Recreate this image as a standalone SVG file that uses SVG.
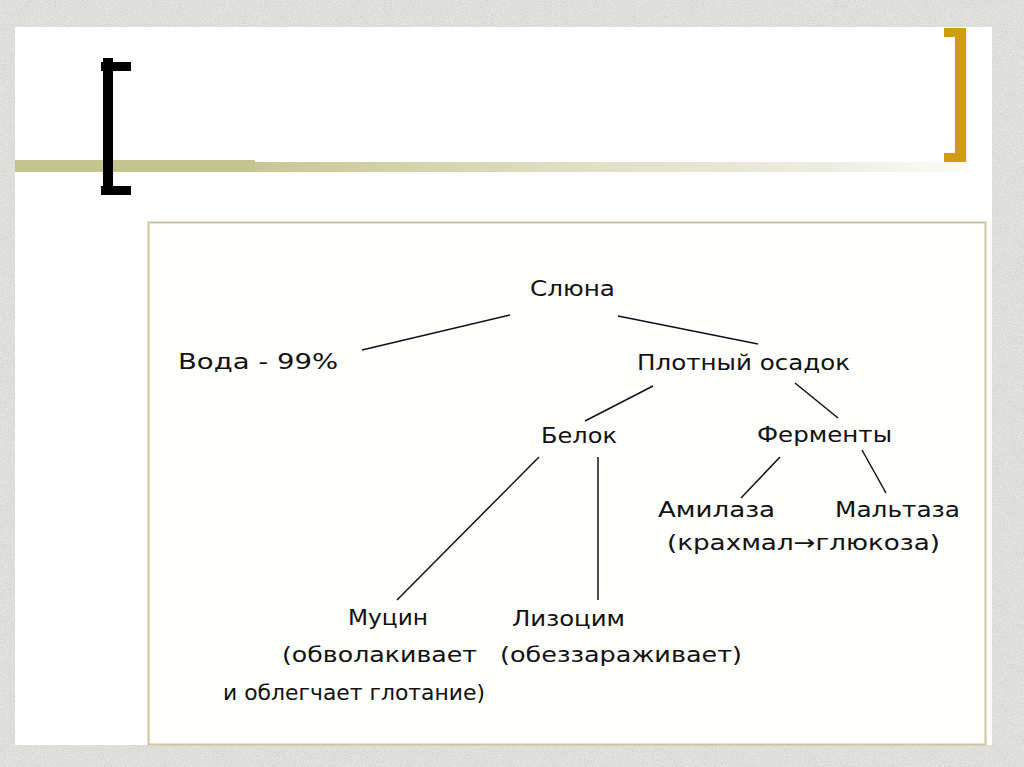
<svg xmlns="http://www.w3.org/2000/svg" width="1024" height="767" viewBox="0 0 1024 767">
<defs>
<filter id="tex" x="0" y="0" width="100%" height="100%">
<feTurbulence type="fractalNoise" baseFrequency="0.9" numOctaves="2" seed="3" result="n"/>
<feColorMatrix type="matrix" values="0 0 0 0 0.55  0 0 0 0 0.55  0 0 0 0 0.53  0 0 0 -2.2 1.35"/>
</filter>
<linearGradient id="bar" x1="0" y1="0" x2="1" y2="0">
<stop offset="0" stop-color="#c8c894"/>
<stop offset="0.45" stop-color="#dfdfc4"/>
<stop offset="0.8" stop-color="#eeede2"/>
<stop offset="1" stop-color="#fcfcf8"/>
</linearGradient>
<style>
.t{font-family:"DejaVu Sans","Liberation Sans",sans-serif;font-size:21px;fill:#111;}
.c{stroke:#111;stroke-width:1.5;fill:none;}
</style>
</defs>
<rect x="0" y="0" width="1024" height="767" fill="#e3e3df"/>
<rect x="0" y="0" width="1024" height="767" filter="url(#tex)" opacity="0.6"/>
<rect x="15" y="27" width="977" height="718" fill="#ffffff"/>
<rect x="255" y="162" width="715" height="10" fill="url(#bar)"/>
<rect x="15" y="160" width="240" height="12" fill="#c4c48e"/>
<g id="bracket-left" fill="#000">
<rect x="103" y="58" width="10" height="137"/>
<rect x="101" y="62" width="30" height="9"/>
<rect x="101" y="186" width="30" height="9"/>
</g>
<g id="bracket-right" fill="#d09c14">
<rect x="955" y="28" width="11" height="134"/>
<rect x="944" y="28" width="22" height="9"/>
<rect x="944" y="153" width="22" height="9"/>
</g>
<rect x="148.5" y="222.5" width="837" height="522" fill="#fffffd" stroke="#ccc4a2" stroke-width="2"/>
<g id="connectors">
<line class="c" x1="362" y1="350" x2="510" y2="315"/>
<line class="c" x1="618" y1="316" x2="758" y2="344"/>
<line class="c" x1="653" y1="386" x2="585" y2="421"/>
<line class="c" x1="795" y1="383" x2="838" y2="418"/>
<line class="c" x1="780" y1="457" x2="741" y2="498"/>
<line class="c" x1="862" y1="450" x2="886" y2="493"/>
<line class="c" x1="539" y1="457" x2="397" y2="600"/>
<line class="c" x1="598" y1="457" x2="598" y2="600"/>
</g>
<g id="n-slyuna"><text class="t" x="530" y="296" textLength="85" lengthAdjust="spacingAndGlyphs">Слюна</text></g>
<g id="n-voda"><text class="t" x="178" y="369" textLength="160" lengthAdjust="spacingAndGlyphs">Вода - 99%</text></g>
<g id="n-osadok"><text class="t" x="637" y="370" textLength="213" lengthAdjust="spacingAndGlyphs">Плотный осадок</text></g>
<g id="n-belok"><text class="t" x="541" y="443" textLength="76" lengthAdjust="spacingAndGlyphs">Белок</text></g>
<g id="n-fermenty"><text class="t" x="757" y="442" textLength="135" lengthAdjust="spacingAndGlyphs">Ферменты</text></g>
<g id="n-amilaza">
<text class="t" x="658" y="517" textLength="117" lengthAdjust="spacingAndGlyphs">Амилаза</text>
<text class="t" x="667" y="550" textLength="273" lengthAdjust="spacingAndGlyphs">(крахмал→глюкоза)</text>
</g>
<g id="n-maltaza"><text class="t" x="835" y="517" textLength="125" lengthAdjust="spacingAndGlyphs">Мальтаза</text></g>
<g id="n-mucin">
<text class="t" x="348" y="625" textLength="80" lengthAdjust="spacingAndGlyphs">Муцин</text>
<text class="t" x="282" y="662" textLength="195" lengthAdjust="spacingAndGlyphs">(обволакивает</text>
<text class="t" x="223" y="700" textLength="262" lengthAdjust="spacingAndGlyphs">и облегчает глотание)</text>
</g>
<g id="n-lizocim">
<text class="t" x="512" y="626" textLength="113" lengthAdjust="spacingAndGlyphs">Лизоцим</text>
<text class="t" x="500" y="662" textLength="242" lengthAdjust="spacingAndGlyphs">(обеззараживает)</text>
</g>
</svg>
